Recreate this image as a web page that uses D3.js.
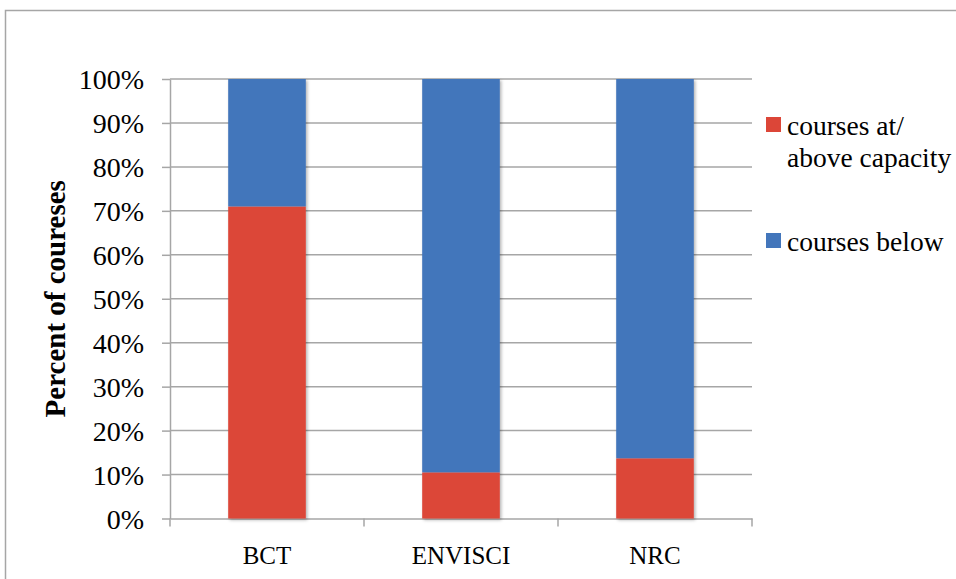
<!DOCTYPE html>
<html><head><meta charset="utf-8">
<script src="https://cdn.jsdelivr.net/npm/d3@7"></script>
<style>body{margin:0;background:#fff}svg{display:block}</style>
</head><body>
<script>
const categories = ["BCT", "ENVISCI", "NRC"];
const atAbove = [71.0, 10.5, 13.7];
const below = [29.0, 89.5, 86.3];
const seriesNames = ["courses at/\nabove capacity", "courses below"];
const seriesColors = ["#dc4638", "#4376bb"];
const yTicks = [0,10,20,30,40,50,60,70,80,90,100];

(function(){
const W = 956, H = 579;
const svg = d3.select("body").append("svg").attr("width", W).attr("height", H);
const defs = svg.append("defs");
const f = defs.append("filter").attr("id","sh").attr("x","-10%").attr("y","-10%").attr("width","130%").attr("height","130%");
f.append("feDropShadow").attr("dx",1.5).attr("dy",1.5).attr("stdDeviation",1.5).attr("flood-color","#000").attr("flood-opacity",0.3);

// outer border
svg.append("path").attr("d", `M5.5,${H} L5.5,10.5 L${W},10.5`).attr("fill","none").attr("stroke","#a6a6a6").attr("stroke-width",1.5);

const pl = 170, pr = 752, pt = 79, pb = 518.5;
const x = d3.scaleBand().domain(categories).range([pl, pr]).paddingInner(0.6).paddingOuter(0.3);
const y = d3.scaleLinear().domain([0,100]).range([pb, pt]);
const font = "'Liberation Serif', serif";
const grey = "#a6a6a6";

// gridlines
svg.append("g").selectAll("line").data(yTicks.filter(d=>d>0)).join("line")
  .attr("x1", pl).attr("x2", pr).attr("y1", d=>y(d)).attr("y2", d=>y(d))
  .attr("stroke", grey).attr("stroke-width", 1.5);

// y axis
const yAxis = svg.append("g").attr("transform", `translate(${pl},0)`)
  .call(d3.axisLeft(y).tickValues(yTicks).tickFormat(d=>d+"%").tickSize(8).tickSizeOuter(0));
yAxis.select(".domain").attr("stroke", grey).attr("stroke-width", 1.5);
yAxis.selectAll(".tick line").attr("stroke", grey).attr("stroke-width", 1.5);
yAxis.selectAll(".tick text").attr("x", -26).attr("font-family", font).attr("font-size", 28).attr("fill","#000").attr("dy","0.34em");

// x axis
const xAxis = svg.append("g").attr("transform", `translate(0,${pb})`)
  .call(d3.axisBottom(x).tickSize(0).tickSizeOuter(0));
xAxis.select(".domain").attr("stroke", grey).attr("stroke-width", 1.5);
xAxis.selectAll(".tick text").attr("font-family", font).attr("font-size", 25).attr("fill","#000").attr("y", 45).attr("dy", 0);
// category separator ticks
const seps = [pl, ...categories.slice(0,2).map(c => x(c) + x.bandwidth() + x.step()*x.paddingInner()/2), pr];
svg.append("g").selectAll("line").data(seps).join("line")
  .attr("x1", d=>d).attr("x2", d=>d).attr("y1", pb).attr("y2", pb+8)
  .attr("stroke", grey).attr("stroke-width", 1.5);

// bars
const stack = categories.map((c,i)=>({c, a: atAbove[i], b: below[i]}));
const g = svg.append("g").attr("filter","url(#sh)");
g.selectAll("rect.a").data(stack).join("rect").attr("class","a")
  .attr("x", d=>x(d.c)).attr("width", x.bandwidth())
  .attr("y", d=>y(d.a)).attr("height", d=>y(0)-y(d.a)).attr("fill", seriesColors[0]);
g.selectAll("rect.b").data(stack).join("rect").attr("class","b")
  .attr("x", d=>x(d.c)).attr("width", x.bandwidth())
  .attr("y", d=>y(d.a+d.b)).attr("height", d=>y(d.a)-y(d.a+d.b)).attr("fill", seriesColors[1]);

// y title
svg.append("text").attr("transform", `translate(65,${(pt+pb)/2}) rotate(-90)`)
  .attr("text-anchor","middle").attr("font-family", font).attr("font-weight","bold").attr("font-size", 29)
  .text("Percent of coureses");

// legend
const leg = svg.append("g");
const legY = [117, 233];
seriesNames.forEach((n,i)=>{
  leg.append("rect").attr("x",766).attr("y",legY[i]).attr("width",15).attr("height",15).attr("fill",seriesColors[i]);
  const t = leg.append("text").attr("font-family", font).attr("font-size", 27.5).attr("fill","#000");
  n.split("\n").forEach((line,j)=>{
    t.append("tspan").attr("x",787).attr("y", legY[i]+18+j*32).text(line);
  });
});
})();
</script>
</body></html>
